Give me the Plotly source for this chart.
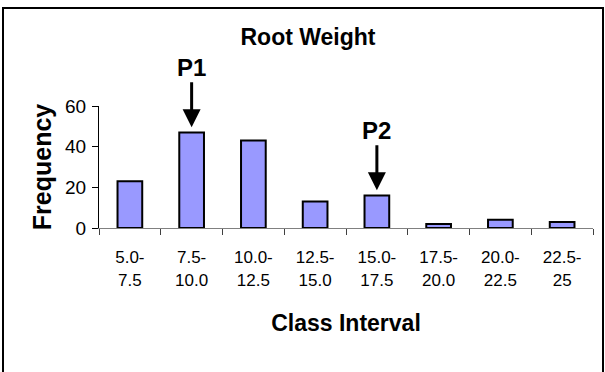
import plotly.graph_objects as go

# Histogram of root weight by class interval
class_intervals = ["5.0-<br>7.5", "7.5-<br>10.0", "10.0-<br>12.5", "12.5-<br>15.0",
                   "15.0-<br>17.5", "17.5-<br>20.0", "20.0-<br>22.5", "22.5-<br>25"]
frequency = [23, 47, 43, 13, 16, 2, 4, 3]

# Peaks marked with arrows
peak_labels = ["P1", "P2"]
peak_index = [1, 4]

W, H = 605, 372
L, R, T, B = 99, 12, 106, 144
pw, ph = W - L - R, H - T - B

fig = go.Figure(go.Bar(
    x=class_intervals,
    y=frequency,
    marker=dict(color="#9999FF", line=dict(color="black", width=2)),
    width=0.4,
))

for lab, i in zip(peak_labels, peak_index):
    fig.add_annotation(
        x=class_intervals[i], y=frequency[i] + 2.6,
        xref="x", yref="y",
        text=f"<b>{lab}</b>",
        showarrow=True, arrowhead=2, arrowsize=1.2, arrowwidth=3,
        arrowcolor="black", ax=0, ay=-60,
        font=dict(family="Arial", size=24, color="black"),
    )

# Outer chart-area frame
def px_x(p):
    return (p - L) / pw

def px_y(p):
    return (H - B - p) / ph

fig.add_shape(type="rect", xref="paper", yref="paper",
              x0=px_x(3), x1=px_x(603), y0=px_y(390), y1=px_y(8),
              line=dict(color="black", width=2), fillcolor="rgba(0,0,0,0)")

fig.update_layout(
    width=W, height=H,
    margin=dict(l=L, r=R, t=T, b=B),
    paper_bgcolor="white", plot_bgcolor="white",
    showlegend=False,
    font=dict(family="Arial", color="black"),
    title=dict(text="<b>Root Weight</b>", x=308 / W, xanchor="center",
               y=1 - 37 / H, yanchor="middle", yref="container",
               font=dict(size=23, family="Arial", color="black")),
    xaxis=dict(
        type="category", range=[-0.5, 7.5],
        showline=True, linecolor="#808080", linewidth=1,
        ticks="outside", tickson="boundaries", ticklen=6, tickcolor="#404040",
        tickfont=dict(size=17, family="Arial"),
        ticklabelstandoff=14,
        showgrid=False, zeroline=False,
        title=dict(text="<b>Class Interval</b>", font=dict(size=23, family="Arial"),
                   standoff=26),
    ),
    yaxis=dict(
        range=[0, 60], tickvals=[0, 20, 40, 60],
        showline=True, linecolor="black", linewidth=1,
        ticks="outside", ticklen=6, tickcolor="black",
        tickfont=dict(size=19, family="Arial"),
        ticklabelstandoff=2,
        showgrid=False, zeroline=False,
        title=dict(text="<b>Frequency</b>", font=dict(size=25, family="Arial"),
                   standoff=6),
    ),
)

fig.write_html("out.html")
